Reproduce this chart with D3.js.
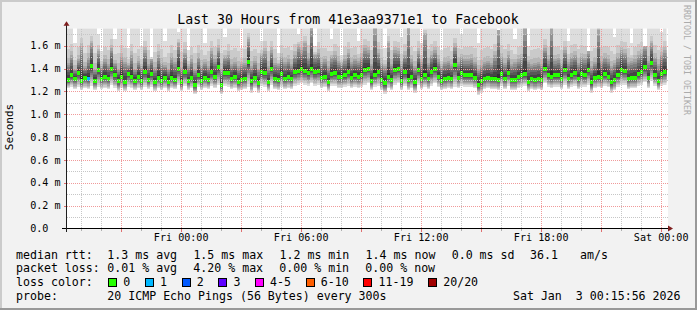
<!DOCTYPE html>
<html><head><meta charset="utf-8">
<script src="https://cdn.jsdelivr.net/npm/d3@7"></script>
<style>
body{margin:0;background:#f2f2f2}
svg{display:block}
text{font-family:"DejaVu Sans Mono",monospace;white-space:pre;fill:#000}
</style>
</head><body><svg id="c" width="697" height="310"></svg>
<script>
// ---------------- DATA ----------------
const titleText = "Last 30 Hours from 41e3aa9371e1 to Facebook";
const yUnitLabel = "Seconds";
const watermark = "RRDTOOL / TOBI OETIKER";
const yTickValues = [0, 0.2, 0.4, 0.6, 0.8, 1.0, 1.2, 1.4, 1.6];
const yTickLabels = ["0.0", "0.2 m", "0.4 m", "0.6 m", "0.8 m", "1.0 m", "1.2 m", "1.4 m", "1.6 m"];
const xTickLabels = ["Fri 00:00", "Fri 06:00", "Fri 12:00", "Fri 18:00", "Sat 00:00"];
const endTime = new Date(2026, 0, 3, 0, 15, 56);
const spanHours = 30;
const yMax = 1.75; // ms

// median rtt per 10-minute bin (ms)
const median = [
1.30,1.34,1.31,1.36,1.29,1.32,1.31,1.42,1.29,1.39,
1.31,1.33,1.31,1.40,1.34,1.29,1.33,1.28,1.35,1.33,
1.29,1.33,1.29,1.37,1.30,1.35,1.28,1.32,1.29,1.32,
1.28,1.32,1.30,1.40,1.28,1.37,1.29,1.32,1.26,1.34,
1.29,1.32,1.30,1.37,1.33,1.41,1.26,1.36,1.36,1.31,
1.33,1.28,1.30,1.31,1.46,1.29,1.32,1.27,1.37,1.36,
1.28,1.40,1.31,1.30,1.35,1.31,1.33,1.31,1.37,1.38,
1.40,1.38,1.36,1.40,1.37,1.38,1.32,1.33,1.28,1.35,
1.36,1.33,1.33,1.34,1.37,1.32,1.34,1.33,1.34,1.39,
1.40,1.29,1.34,1.37,1.30,1.27,1.33,1.30,1.39,1.40,
1.29,1.37,1.30,1.33,1.28,1.39,1.31,1.34,1.31,1.37,
1.40,1.33,1.29,1.31,1.32,1.31,1.43,1.32,1.36,1.34,
1.34,1.34,1.32,1.26,1.29,1.31,1.32,1.31,1.31,1.30,
1.35,1.31,1.36,1.30,1.30,1.33,1.34,1.35,1.28,1.31,
1.30,1.31,1.30,1.40,1.34,1.33,1.34,1.34,1.31,1.39,
1.31,1.34,1.36,1.31,1.35,1.34,1.39,1.28,1.32,1.33,
1.32,1.35,1.33,1.28,1.30,1.34,1.39,1.38,1.31,1.32,
1.32,1.35,1.37,1.41,1.32,1.45,1.34,1.29,1.35,1.37];

// lowest ping per bin (ms)
const pingMin = [
1.23,1.24,1.22,1.24,1.21,1.23,1.22,1.25,1.21,1.24,
1.22,1.23,1.22,1.26,1.23,1.20,1.23,1.20,1.24,1.23,
1.21,1.23,1.21,1.24,1.22,1.24,1.20,1.23,1.21,1.23,
1.20,1.23,1.22,1.26,1.20,1.25,1.21,1.23,1.18,1.24,
1.21,1.23,1.22,1.25,1.23,1.26,1.18,1.25,1.24,1.22,
1.23,1.20,1.21,1.22,1.24,1.19,1.23,1.19,1.25,1.24,
1.20,1.26,1.22,1.21,1.24,1.22,1.23,1.22,1.25,1.26,
1.27,1.26,1.25,1.27,1.25,1.26,1.23,1.24,1.20,1.25,
1.25,1.23,1.23,1.24,1.25,1.23,1.24,1.23,1.24,1.26,
1.27,1.21,1.24,1.25,1.21,1.18,1.23,1.21,1.26,1.27,
1.21,1.25,1.21,1.23,1.19,1.26,1.22,1.24,1.22,1.25,
1.27,1.24,1.21,1.22,1.23,1.22,1.24,1.23,1.25,1.24,
1.24,1.24,1.23,1.17,1.19,1.22,1.23,1.22,1.22,1.21,
1.25,1.22,1.25,1.21,1.21,1.23,1.24,1.25,1.20,1.22,
1.21,1.22,1.21,1.27,1.24,1.23,1.24,1.24,1.22,1.26,
1.22,1.24,1.25,1.22,1.24,1.24,1.26,1.19,1.23,1.24,
1.23,1.25,1.24,1.19,1.21,1.24,1.26,1.26,1.22,1.23,
1.23,1.25,1.26,1.28,1.23,1.29,1.25,1.21,1.25,1.26];

// upper-middle ping (about 17th of 20) per bin (ms)
const pingUpper = [
1.45,1.52,1.40,1.48,1.60,1.42,1.50,1.62,1.40,1.55,
1.42,1.48,1.44,1.58,1.45,1.40,1.50,1.46,1.43,1.52,
1.40,1.47,1.42,1.56,1.44,1.48,1.41,1.52,1.45,1.43,
1.40,1.50,1.46,1.62,1.41,1.54,1.42,1.48,1.40,1.50,
1.43,1.46,1.42,1.55,1.48,1.58,1.40,1.50,1.52,1.44,
1.46,1.42,1.44,1.45,1.66,1.42,1.47,1.40,1.52,1.55,
1.42,1.56,1.45,1.44,1.50,1.46,1.48,1.44,1.52,1.60,
1.56,1.62,1.50,1.78,1.52,1.54,1.46,1.48,1.42,1.50,
1.52,1.47,1.45,1.48,1.54,1.46,1.48,1.47,1.50,1.58,
1.56,1.44,1.75,1.54,1.45,1.42,1.62,1.44,1.56,1.55,
1.44,1.52,1.76,1.48,1.42,1.55,1.46,1.70,1.45,1.52,
1.56,1.48,1.42,1.46,1.47,1.44,1.60,1.46,1.50,1.48,
1.48,1.49,1.46,1.40,1.43,1.46,1.47,1.45,1.52,1.74,
1.50,1.45,1.52,1.44,1.46,1.48,1.49,1.75,1.46,1.44,
1.45,1.46,1.44,1.58,1.48,1.76,1.48,1.49,1.45,1.56,
1.46,1.50,1.52,1.45,1.50,1.49,1.55,1.42,1.46,1.74,
1.47,1.50,1.48,1.42,1.45,1.50,1.56,1.54,1.46,1.47,
1.48,1.52,1.54,1.60,1.47,1.62,1.50,1.44,1.52,1.56];

// highest ping per bin (ms), values above 1.75 are clipped
const pingMax = [
1.80,1.80,1.62,1.80,1.80,1.76,1.80,1.80,1.80,1.70,
1.55,1.80,1.78,1.80,1.66,1.80,1.80,1.80,1.58,1.80,
1.80,1.77,1.60,1.80,1.80,1.50,1.80,1.80,1.80,1.64,
1.80,1.80,1.76,1.72,1.80,1.80,1.56,1.80,1.80,1.80,
1.80,1.62,1.80,1.80,1.78,1.80,1.80,1.68,1.80,1.80,
1.80,1.80,1.58,1.80,1.80,1.80,1.77,1.80,1.64,1.80,
1.80,1.80,1.80,1.54,1.80,1.80,1.80,1.80,1.80,1.70,
1.80,1.80,1.80,1.80,1.60,1.80,1.80,1.76,1.80,1.66,
1.80,1.80,1.52,1.80,1.80,1.80,1.80,1.64,1.80,1.80,
1.80,1.80,1.80,1.80,1.80,1.58,1.80,1.80,1.80,1.78,
1.68,1.80,1.80,1.80,1.80,1.80,1.62,1.80,1.80,1.80,
1.80,1.80,1.56,1.80,1.80,1.77,1.80,1.80,1.70,1.80,
1.80,1.80,1.80,1.62,1.80,1.80,1.80,1.80,1.80,1.55,
1.80,1.80,1.78,1.80,1.66,1.80,1.80,1.80,1.60,1.80,
1.80,1.80,1.80,1.80,1.80,1.58,1.80,1.80,1.76,1.80,
1.64,1.80,1.80,1.80,1.80,1.80,1.52,1.80,1.80,1.80,
1.80,1.78,1.80,1.80,1.68,1.80,1.80,1.80,1.80,1.62,
1.80,1.80,1.80,1.58,1.80,1.80,1.80,1.80,1.72,1.80];

// bins with packet loss and number of lost pings
const lossBins = [6];
const lossLost = [1];

const lossLabels = ["0", "1", "2", "3", "4-5", "6-10", "11-19", "20/20"];
const lossColors = ["#26ff00", "#00b8ff", "#0059ff", "#5e00ff", "#ff00ff", "#ff5e00", "#ff0000", "#a10000"];
const lossMaxCount = [0, 1, 2, 3, 5, 10, 19, 20];

const rttStats = ["1.3 ms avg", "1.5 ms max", "1.2 ms min", "1.4 ms now", "0.0 ms sd"];
const rttExtra = ["36.1", "am/s"];
const lossStats = ["0.01 % avg", "4.20 % max", "0.00 % min", "0.00 % now"];
const probeText = "20 ICMP Echo Pings (56 Bytes) every 300s";
const stampText = "Sat Jan  3 00:15:56 2026";

// ---------------- DRAW ----------------
const W = 697, H = 310;
const svg = d3.select("#c");
const X0 = 66.5, X1 = 666.5, Y0 = 228.5, Y1 = 28.5;
const startTime = new Date(endTime.getTime() - spanHours * 3600e3);
const x = d3.scaleTime().domain([startTime, endTime]).range([X0, X1]);
const y = d3.scaleLinear().domain([0, yMax]).range([Y0, Y1]);

// background + 3D frame
svg.append("rect").attr("width", W).attr("height", H).attr("fill", "#f2f2f2");
svg.append("path").attr("d", `M0,0H${W}V2H2V${H}H0Z`).attr("fill", "#cbcbcb");
svg.append("path").attr("d", `M${W},0V${H}H0V${H-2}H${W-2}V0Z`).attr("fill", "#999999");

// canvas
svg.append("rect").attr("x", X0).attr("y", Y1).attr("width", 668 - X0).attr("height", Y0 - Y1).attr("fill", "#ffffff");

const plot = svg.append("g");
svg.append("clipPath").attr("id", "clip").append("rect")
  .attr("x", X0).attr("y", Y1).attr("width", X1 - X0).attr("height", Y0 - Y1);
plot.attr("clip-path", "url(#clip)");

const nBins = median.length;
const binMs = (endTime - startTime) / nBins;
function binX(i) { return Math.round(x(new Date(startTime.getTime() + i * binMs))); }

function pingLayers(i) {
  const m = median[i], l = pingMin[i], h = pingMax[i], q = pingUpper[i];
  const p = new Array(21);
  for (let k = 1; k <= 10; k++) { const t = (10.5 - k) / 9.5; p[k] = m - (m - l) * Math.pow(t, 1.1); }
  for (let k = 11; k <= 16; k++) { const t = (k - 10.5) / 6.5; p[k] = m + (q - m) * Math.pow(t, 0.85); }
  p[17] = q; p[18] = q + (h - q) * 0.12; p[19] = q + (h - q) * 0.35; p[20] = h;
  return p;
}

const smokeG = plot.append("g").attr("shape-rendering", "crispEdges");
for (let i = 0; i < nBins; i++) {
  const p = pingLayers(i);
  const xa = binX(i), xb = binX(i + 1);
  for (let ib = 1; ib <= 10; ib++) {
    const c = Math.floor(190 / 10 * (10 - ib)) + 50;
    const top = y(Math.min(p[21 - ib], yMax + 0.01)), bot = y(p[ib]);
    smokeG.append("rect").attr("x", xa).attr("width", xb - xa)
      .attr("y", Math.round(top)).attr("height", Math.max(1, Math.round(bot) - Math.round(top)))
      .attr("fill", d3.rgb(c, c, c));
  }
}
// median boxes coloured by loss
const medG = plot.append("g").attr("shape-rendering", "crispEdges");
for (let i = 0; i < nBins; i++) {
  const li = lossBins.indexOf(i);
  const lost = li >= 0 ? lossLost[li] : 0;
  let ci = lossMaxCount.findIndex(v => lost <= v);
  const xa = binX(i), xb = binX(i + 1);
  const ym = Math.round(y(median[i]));
  medG.append("rect").attr("x", xa).attr("width", xb - xa).attr("y", ym - 2).attr("height", 4)
    .attr("fill", lossColors[ci]);
}

// grid (drawn on top)
const gridG = svg.append("g").attr("shape-rendering", "crispEdges");
const minorT = x.ticks(d3.timeHour.every(1));
const majorT = x.ticks(d3.timeHour.every(3));
const isMajor = t => t.getHours() % 3 === 0;
minorT.filter(t => !isMajor(t)).forEach(t => {
  const xx = Math.round(x(t)) + 0.5;
  gridG.append("line").attr("x1", xx).attr("x2", xx).attr("y1", Y1).attr("y2", Y0)
    .attr("stroke", "#c6c6c6").attr("stroke-dasharray", "1,1");
  gridG.append("line").attr("x1", xx).attr("x2", xx).attr("y1", Y0).attr("y2", Y0 + 2).attr("stroke", "#b0b0b0");
});
const yMinor = [0.1, 0.3, 0.5, 0.7, 0.9, 1.1, 1.3, 1.5, 1.7];
yMinor.forEach(v => {
  const yy = Math.round(y(v)) + 0.5;
  gridG.append("line").attr("x1", X0).attr("x2", 668).attr("y1", yy).attr("y2", yy)
    .attr("stroke", "#c6c6c6").attr("stroke-dasharray", "1,1");
});
majorT.forEach(t => {
  const xx = Math.round(x(t)) + 0.5;
  gridG.append("line").attr("x1", xx).attr("x2", xx).attr("y1", Y1).attr("y2", Y0)
    .attr("stroke", "#f09a9a").attr("stroke-dasharray", "1,1");
  gridG.append("line").attr("x1", xx).attr("x2", xx).attr("y1", Y0).attr("y2", Y0 + 3).attr("stroke", "#e07070");
});
yTickValues.slice(1).forEach(v => {
  const yy = Math.round(y(v)) + 0.5;
  gridG.append("line").attr("x1", X0).attr("x2", 668).attr("y1", yy).attr("y2", yy)
    .attr("stroke", "#f09a9a").attr("stroke-dasharray", "1,1");
  gridG.append("line").attr("x1", X0 - 3).attr("x2", X0).attr("y1", yy).attr("y2", yy).attr("stroke", "#e07070");
});

// axes
gridG.append("line").attr("x1", 62).attr("x2", 668).attr("y1", Y0).attr("y2", Y0).attr("stroke", "#000");
gridG.append("line").attr("x1", X0).attr("x2", X0).attr("y1", Y0 + 3).attr("y2", 25).attr("stroke", "#1f1f1f");
svg.append("path").attr("d", `M${X0 - 3},25.7L${X0},21.2L${X0 + 3},25.7Z`).attr("fill", "#7f1f1f");
svg.append("path").attr("d", `M668,${Y0 - 3}L673,${Y0}L668,${Y0 + 3}Z`).attr("fill", "#7f1f1f");

// x labels every 6 hours
const labelT = x.ticks(d3.timeHour.every(6));
const fmt = d3.timeFormat("%a %H:%M");
labelT.forEach(t => {
  const s = fmt(t);
  if (!xTickLabels.includes(s)) return;
  svg.append("text").attr("x", x(t)).attr("y", 240.7).attr("text-anchor", "middle")
    .attr("font-size", "10.1px").text(s);
});
// y labels
yTickValues.forEach((v, i) => {
  svg.append("text").attr("x", 30.2).attr("y", y(v) + 3.6).attr("font-size", "10.1px").text(yTickLabels[i]);
});

// title, unit, watermark
svg.append("text").attr("x", 348).attr("y", 24).attr("text-anchor", "middle")
  .attr("font-size", "13.2px").text(titleText);
svg.append("text").attr("transform", "translate(13.4,127) rotate(-90)").attr("text-anchor", "middle")
  .attr("font-size", "11px").text(yUnitLabel);
svg.append("text").attr("transform", "translate(684.3,5) rotate(90)")
  .attr("font-size", "8.3px").style("fill", "#ababab").text(watermark);

// legend
const LF = "11.6px", CW = 7.0;
const rows = [258.5, 272.3, 286, 299.8];
const leg = (tx, xx, yy) => svg.append("text").attr("x", xx).attr("y", yy).attr("font-size", LF).text(tx);
leg("median rtt:", 16, rows[0]);
rttStats.forEach((s, i) => leg(s, 107.3 + i * 86.1, rows[0]));
leg(rttExtra[0], 530, rows[0]);
leg(rttExtra[1], 580, rows[0]);
leg("packet loss:", 16, rows[1]);
lossStats.forEach((s, i) => leg(s, 107.3 + i * 86.0, rows[1]));
leg("loss color:", 16, rows[2]);
let bx = 108.3;
lossLabels.forEach((lab, i) => {
  svg.append("rect").attr("x", Math.round(bx) + 0.5).attr("y", 278.5).attr("width", 8).attr("height", 8)
    .attr("fill", lossColors[i]).attr("stroke", "#000").attr("stroke-width", 1);
  leg(lab, bx + 15, rows[2]);
  bx += 29.7 + CW * lab.length;
});
leg("probe:", 16, rows[3]);
leg(probeText, 107.3, rows[3]);
svg.append("text").attr("x", 680.5).attr("y", rows[3]).attr("text-anchor", "end").attr("font-size", LF).text(stampText);
</script></body></html>
